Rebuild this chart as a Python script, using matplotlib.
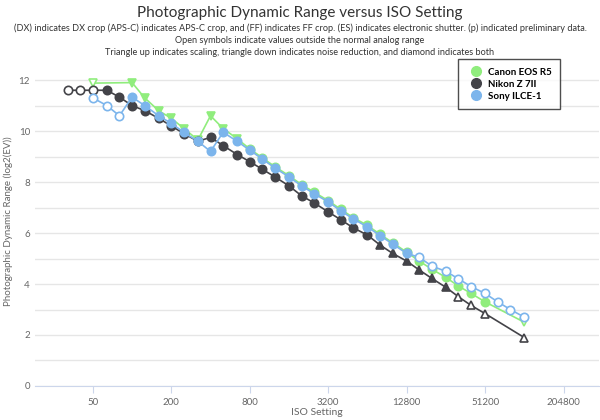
import numpy as np
import matplotlib.pyplot as plt
from matplotlib.lines import Line2D

plt.rcParams['font.family'] = 'Lato'

# ISO steps (1/3 stop)
iso_all = [32, 40, 50, 64, 80, 100, 125, 160, 200, 250, 320, 400, 500, 640, 800, 1000,
           1250, 1600, 2000, 2500, 3200, 4000, 5000, 6400, 8000, 10000, 12800, 16000,
           20000, 25600, 32000, 40000, 51200, 64000, 80000, 102400]

# Canon EOS R5
canon_iso = [50, 100, 125, 160, 200, 250, 320, 400, 500, 640, 800, 1000, 1250, 1600, 2000,
             2500, 3200, 4000, 5000, 6400, 8000, 10000, 12800, 16000, 20000, 25600,
             32000, 40000, 51200, 102400]
canon_dr = [11.88, 11.9, 11.3, 10.8, 10.5, 10.1, 9.65, 10.6, 10.1, 9.7, 9.3, 8.95, 8.6,
            8.25, 7.9, 7.6, 7.27, 6.93, 6.6, 6.3, 5.95, 5.62, 5.25, 4.9, 4.58, 4.26,
            3.92, 3.63, 3.3, 2.5]
canon_mk = ['v_open'] + ['v'] * 9 + ['o'] * 19 + ['v_open']

# Nikon Z 7II
nikon_iso = iso_all[:33] + [102400]
nikon_dr = [11.6, 11.6, 11.6, 11.6, 11.33, 11.0, 10.8, 10.5, 10.2, 9.9, 9.6, 9.75, 9.43,
            9.08, 8.8, 8.5, 8.2, 7.85, 7.46, 7.18, 6.83, 6.52, 6.2, 5.92, 5.53, 5.2, 4.9,
            4.55, 4.22, 3.87, 3.5, 3.16, 2.84, 1.9]
nikon_mk = ['o_open'] * 3 + ['o'] * 21 + ['^'] * 6 + ['^_open'] * 4

# Sony ILCE-1
sony_iso = iso_all[2:]
sony_dr = [11.3, 11.0, 10.6, 11.33, 11.0, 10.6, 10.3, 9.95, 9.6, 9.2, 9.95, 9.6, 9.25,
           8.9, 8.55, 8.2, 7.85, 7.54, 7.22, 6.87, 6.55, 6.24, 5.9, 5.57, 5.2, 5.05, 4.7,
           4.5, 4.2, 3.9, 3.63, 3.3, 3.0, 2.7]
sony_mk = ['o_open'] * 3 + ['o'] * 22 + ['o_open'] * 9

series = [('Canon EOS R5', canon_iso, canon_dr, canon_mk, '#90ed7d'),
          ('Nikon Z 7II', nikon_iso, nikon_dr, nikon_mk, '#434348'),
          ('Sony ILCE-1', sony_iso, sony_dr, sony_mk, '#7cb5ec')]

xticks = [50, 200, 800, 3200, 12800, 51200, 204800]

fig = plt.figure(figsize=(6, 4.2), dpi=100)
ax = fig.add_axes([0.058, 0.081, 0.94, 0.783])

for z, (name, iso, dr, mk, col) in enumerate(series):
    ax.plot(iso, dr, color=col, lw=1.2, zorder=2 + z)
    for x, y, m in zip(iso, dr, mk):
        shape = m.split('_')[0]
        face = 'white' if m.endswith('_open') else col
        ax.plot([x], [y], marker=shape, ms=6 if shape == 'o' else 5.5, mfc=face,
                mec=col, mew=1.2, ls='none', zorder=2 + z)

ax.set_xscale('log', base=2)
ax.set_xlim(50 * 2 ** -1.48, 50 * 2 ** 12.9)
ax.set_ylim(0, 12.9)
ax.set_xticks(xticks)
ax.set_xticklabels([str(t) for t in xticks])
ax.minorticks_off()
ax.set_yticks(range(0, 13, 2))
ax.set_yticks(range(0, 13), minor=True)
ax.grid(axis='y', which='both', color='#e6e6e6', lw=1)
ax.set_axisbelow(True)
for s in ['top', 'right', 'left']:
    ax.spines[s].set_visible(False)
ax.spines['bottom'].set_color('#ccd6eb')
ax.tick_params(axis='y', which='both', length=0, labelsize=7, colors='#666666')
ax.tick_params(axis='x', length=5, color='#ccd6eb', labelsize=7, colors='#666666')
ax.set_xlabel('ISO Setting', fontsize=7.5, color='#666666', labelpad=1)
ax.set_ylabel('Photographic Dynamic Range (log2(EV))', fontsize=7, color='#666666', labelpad=4)

fig.text(0.5, 0.968, 'Photographic Dynamic Range versus ISO Setting', ha='center',
         va='center', fontsize=11, color='#333333')
sub = ('(DX) indicates DX crop (APS-C) indicates APS-C crop, and (FF) indicates FF crop. '
       '(ES) indicates electronic shutter. (p) indicated preliminary data.\n'
       'Open symbols indicate values outside the normal analog range\n'
       'Triangle up indicates scaling, triangle down indicates noise reduction, and diamond indicates both')
fig.text(0.5, 0.905, sub, ha='center', va='center', fontsize=6.6, color='#333333',
         linespacing=1.45)

handles = [Line2D([], [], marker='o', color=c, ls='none', ms=7) for _, _, _, _, c in series]
leg = ax.legend(handles, [s[0] for s in series], loc='upper right',
                bbox_to_anchor=(0.935, 1.0), handletextpad=0.2,
                borderpad=0.6, labelspacing=0.3, prop={'weight': 'bold', 'size': 7})
leg.get_frame().set_edgecolor('#222222')
leg.get_frame().set_boxstyle('square')

fig.savefig('out.png', dpi=100)
